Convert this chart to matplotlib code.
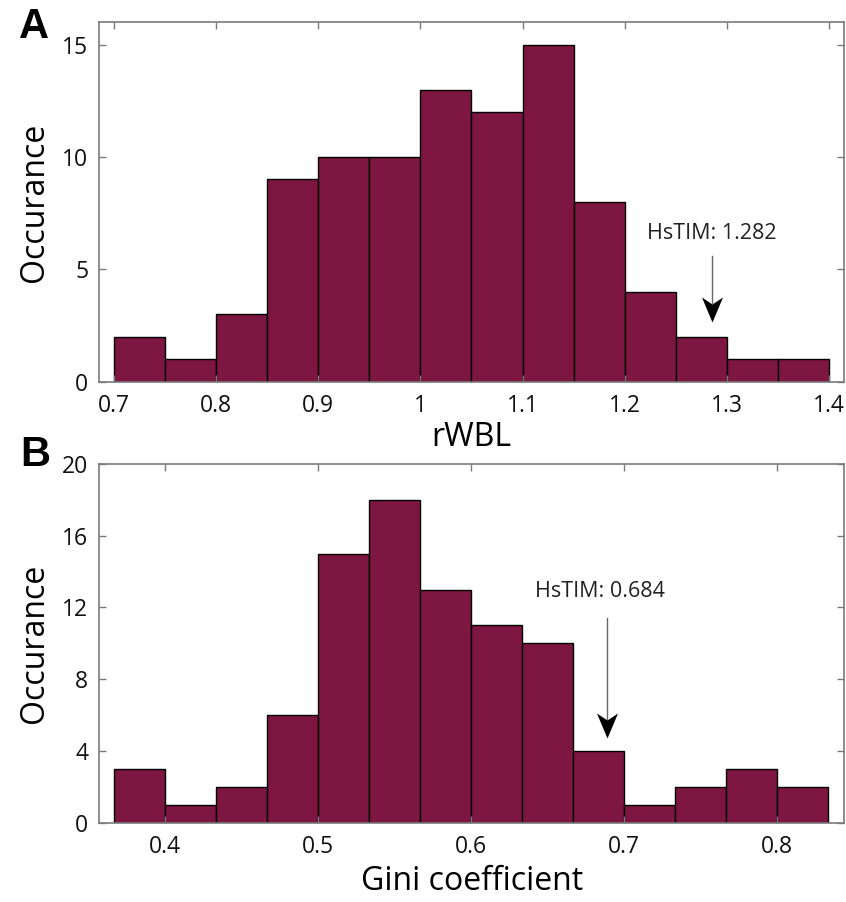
import numpy as np
import matplotlib.pyplot as plt
from matplotlib.path import Path

# panel A: rWBL histogram
rwbl_edges = np.round(np.arange(0.70, 1.4001, 0.05), 3)
rwbl_counts = [2, 1, 3, 9, 10, 10, 13, 12, 15, 8, 4, 2, 1, 1]
rwbl_hstim = 1.282

# panel B: Gini coefficient histogram
gini_edges = np.linspace(0.4 - 0.1 / 3, 0.8 + 0.1 / 3, 15)
gini_counts = [3, 1, 2, 6, 15, 18, 13, 11, 10, 4, 1, 2, 3, 2]
gini_hstim = 0.684

bar_color = '#7e1642'
spine_gray = '#7a7a7a'

plt.rcParams['font.family'] = ['Open Sans', 'DejaVu Sans']

# arrow head with a notched back, tip at the origin
head = Path([(0, 0), (-0.42, 1.0), (0, 0.72), (0.42, 1.0), (0, 0)],
            [Path.MOVETO, Path.LINETO, Path.LINETO, Path.LINETO, Path.CLOSEPOLY])

fig = plt.figure(figsize=(8.46, 9.02), dpi=100)
axA = fig.add_axes([0.1174, 0.5770, 0.8802, 0.3983])
axB = fig.add_axes([0.1174, 0.0879, 0.8802, 0.3977])


def style(ax):
    for s in ax.spines.values():
        s.set_color(spine_gray)
        s.set_linewidth(1.2)
    ax.tick_params(direction='in', length=5, width=1, color=spine_gray,
                   top=True, right=True, labelsize=16.5, labelcolor='#111111')
    ax.tick_params(axis='x', pad=9)
    ax.tick_params(axis='y', pad=8)


def arrow(ax, x, y_tip, y_top, y_notch):
    ax.plot([x, x], [y_notch, y_top], color='#666666', lw=1.0)
    ax.plot(x, y_tip, marker=head, markersize=36, color='black',
            markeredgewidth=0, linestyle='none')


# A
axA.bar(rwbl_edges[:-1], rwbl_counts, width=np.diff(rwbl_edges), align='edge',
        color=bar_color, edgecolor='black', linewidth=1)
axA.set_xlim(0.6856, 1.4147)
axA.set_ylim(0, 16)
axA.set_xticks([0.7, 0.8, 0.9, 1.0, 1.1, 1.2, 1.3, 1.4])
axA.set_xticklabels(['0.7', '0.8', '0.9', '1', '1.1', '1.2', '1.3', '1.4'])
axA.set_yticks([0, 5, 10, 15])
style(axA)
axA.set_xlabel('rWBL', fontsize=23, labelpad=2)
axA.set_ylabel('Occurance', fontsize=23, labelpad=8)
arrow(axA, 1.285, 2.66, 5.6, 3.5)
axA.text(1.285, 6.6, 'HsTIM: ' + str(rwbl_hstim), ha='center', va='center',
         fontsize=15.5, color='#222222')

# B
axB.bar(gini_edges[:-1], gini_counts, width=np.diff(gini_edges), align='edge',
        color=bar_color, edgecolor='black', linewidth=1)
axB.set_xlim(0.357, 0.8438)
axB.set_ylim(0, 20)
axB.set_xticks([0.4, 0.5, 0.6, 0.7, 0.8])
axB.set_yticks([0, 4, 8, 12, 16, 20])
style(axB)
axB.set_xlabel('Gini coefficient', fontsize=23, labelpad=4)
axB.set_ylabel('Occurance', fontsize=23, labelpad=8)
arrow(axB, 0.689, 4.72, 11.4, 5.7)
axB.text(0.684, 12.9, 'HsTIM: ' + str(gini_hstim), ha='center', va='center',
         fontsize=15.5, color='#222222')

fig.text(34 / 846, 1 - 27 / 902, 'A', fontsize=30, fontweight='bold',
         family='Liberation Sans', ha='center', va='center')
fig.text(35 / 846, 1 - 455 / 902, 'B', fontsize=30, fontweight='bold',
         family='Liberation Sans', ha='center', va='center')

fig.savefig('out.png', dpi=100)
